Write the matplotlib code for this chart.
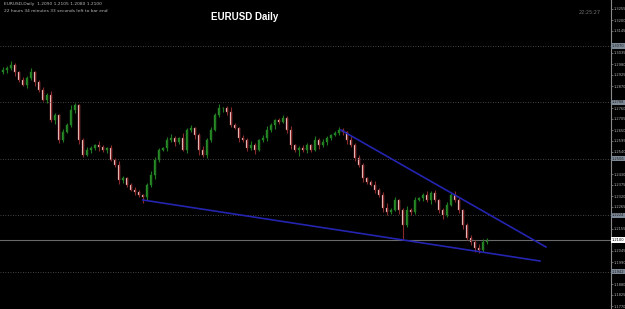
import numpy as np
import matplotlib.pyplot as plt

# daily closes (x 1e-4)
close = [12950, 12960, 12975, 12940, 12900, 12875, 12910, 12940, 12890, 12850,
         12800, 12825, 12700, 12725, 12600, 12640, 12675, 12750, 12775, 12600,
         12525, 12550, 12560, 12575, 12565, 12550, 12560, 12500, 12475, 12400,
         12410, 12375, 12350, 12340, 12325, 12315,
         12375, 12425, 12500, 12550, 12560, 12600, 12610, 12590, 12610, 12550,
         12650, 12660, 12625, 12550, 12525, 12600, 12650, 12725, 12760, 12760,
         12740, 12675, 12660, 12610, 12600, 12560, 12575, 12550, 12600, 12610,
         12650, 12675, 12700, 12690, 12710, 12650, 12575, 12550, 12560, 12550,
         12575, 12550, 12600, 12575, 12590, 12610, 12625, 12635, 12650, 12640,
         12600, 12575, 12510, 12475, 12410, 12390, 12375, 12350, 12325, 12260,
         12240, 12250, 12300, 12250, 12175, 12250, 12240, 12300, 12310, 12325,
         12300, 12335, 12300, 12250, 12225, 12275, 12325, 12300, 12250, 12175,
         12110, 12090, 12060, 12050, 12090, 12100]
first_open = 12940

# wick lengths in pips
wick_up = [15, 10, 20, 10, 5, 15, 10, 20, 5, 10, 15, 10, 20, 10, 5, 15, 10, 25, 10, 5,
           10, 15, 10, 5, 20, 10, 5, 15, 10, 20, 10, 5, 10, 15, 10, 5,
           10, 20, 15, 10, 5, 15, 20, 10, 5, 25, 10, 15, 5, 10, 20, 10, 15, 10, 20, 5,
           10, 25, 10, 5, 15, 10, 20, 10, 5, 15, 20, 10, 5, 10, 15, 10, 20, 5, 10, 15,
           10, 5, 20, 10, 15, 10, 5, 10, 15, 10, 5, 20, 10, 15, 10, 5, 10, 20, 10, 15,
           25, 10, 15, 5, 10, 20, 10, 15, 5, 10, 20, 10, 15, 5, 10, 15, 10, 20, 10, 5,
           10, 15, 10, 20, 15, 10]
wick_dn = [10, 15, 10, 20, 10, 5, 15, 10, 20, 10, 5, 15, 10, 20, 15, 10, 5, 10, 15, 20,
           10, 5, 15, 10, 20, 10, 15, 5, 10, 20, 15, 10, 5, 15, 10, 30,
           15, 10, 20, 10, 5, 15, 10, 20, 10, 5, 15, 10, 20, 25, 10, 15, 10, 5, 10, 20,
           15, 10, 5, 20, 10, 15, 10, 20, 5, 10, 15, 10, 20, 10, 5, 15, 20, 10, 30, 10,
           15, 10, 5, 20, 10, 15, 10, 5, 10, 15, 20, 10, 15, 10, 20, 10, 5, 15, 10, 20,
           15, 10, 5, 20, 75, 10, 15, 10, 5, 15, 10, 20, 10, 15, 20, 10, 5, 10, 15, 20,
           10, 15, 20, 15, 10, 10]

# trend lines: (bar index, price)
upper_line = [(84.5, 1.2650), (135.75, 1.2065)]
lower_line = [(35.0, 1.2300), (134.25, 1.1995)]

grid_levels = [1.3070, 1.2788, 1.2506, 1.2224, 1.1942]
tick_levels = [1.3255 - 0.0055 * k for k in range(28)]

c = np.array(close) / 10000
o = np.r_[first_open, close[:-1]] / 10000
hi = np.maximum(o, c) + np.array(wick_up) / 10000
lo = np.minimum(o, c) - np.array(wick_dn) / 10000
x = np.arange(len(c))
up = c >= o

fig = plt.figure(figsize=(6.25, 3.09), dpi=100, facecolor='black')
ax = fig.add_axes([0, 0, 611 / 625, 1])
ax.set_facecolor('black')

# grid + current price line
for g in grid_levels:
    ax.axhline(g, color='#5a5a5a', lw=0.6, ls=(0, (1, 2)))
ax.axhline(c[-1], color='#6a6a6a', lw=0.8)

# candles
ax.vlines(x[up], lo[up], hi[up], color='#1f7a1f', lw=0.8)
ax.vlines(x[~up], lo[~up], hi[~up], color='#8a2a2a', lw=0.8)
body_h = np.maximum(np.abs(c - o), 0.0002)
ax.bar(x[up], body_h[up], bottom=np.minimum(o, c)[up], width=0.6,
       color='#2e8f2e', edgecolor='#1f7a1f', lw=0.3)
ax.bar(x[~up], body_h[~up], bottom=np.minimum(o, c)[~up], width=0.6,
       color='#f6dede', edgecolor='#b05050', lw=0.3)

# trend lines
for line in (upper_line, lower_line):
    ax.plot([p[0] for p in line], [p[1] for p in line], color='#2424b0', lw=1.2)

ax.set_xlim(-0.7, 152.0)
ax.set_ylim(1.1755, 1.3300)
ax.set_xticks([])
for s in ('top', 'left', 'bottom'):
    ax.spines[s].set_visible(False)
ax.spines['right'].set_color('#8a8a8a')
ax.spines['right'].set_linewidth(0.8)
ax.yaxis.tick_right()

# plain tick labels, skipping those hidden under the boxed ones
boxed = grid_levels + [c[-1]]
ticks = [t for t in tick_levels if min(abs(t - b) for b in boxed) > 0.0028]
ax.set_yticks(ticks)
ax.set_yticklabels(['%.4f' % t for t in ticks])
ax.tick_params(axis='y', colors='#8a8a8a', labelcolor='#b0b0b0', labelsize=2.6,
               length=1.2, width=0.5, pad=0.6)

# boxed labels on grid and price
for g in grid_levels:
    ax.text(1.001, g, '%.4f' % g, transform=ax.get_yaxis_transform(), fontsize=2.6,
            color='#202020', va='center', ha='left',
            bbox=dict(facecolor='#7c8896', edgecolor='none', pad=0.5))
ax.text(1.001, c[-1], '%.4f' % c[-1], transform=ax.get_yaxis_transform(), fontsize=2.6,
        color='black', va='center', ha='left',
        bbox=dict(facecolor='white', edgecolor='none', pad=0.5))

# header texts
fig.text(0.006, 0.992, 'EURUSD,Daily  1.2090 1.2105 1.2080 1.2100', fontsize=3.2,
         color='#b8b8b8', va='top')
fig.text(0.006, 0.972, '22 hours 34 minutes 33 seconds left to bar end', fontsize=3.2,
         color='#b8b8b8', va='top')
fig.text(590 / 625, 1 - 12 / 309, '22:25:27', fontsize=3.6, color='#707070',
         va='center', ha='center')
fig.text(245 / 625, 1 - 17 / 309, 'EURUSD Daily', fontsize=7, fontweight='bold',
         color='white', family='Liberation Sans', va='center', ha='center')

fig.savefig('out.png', dpi=100, facecolor='black')
